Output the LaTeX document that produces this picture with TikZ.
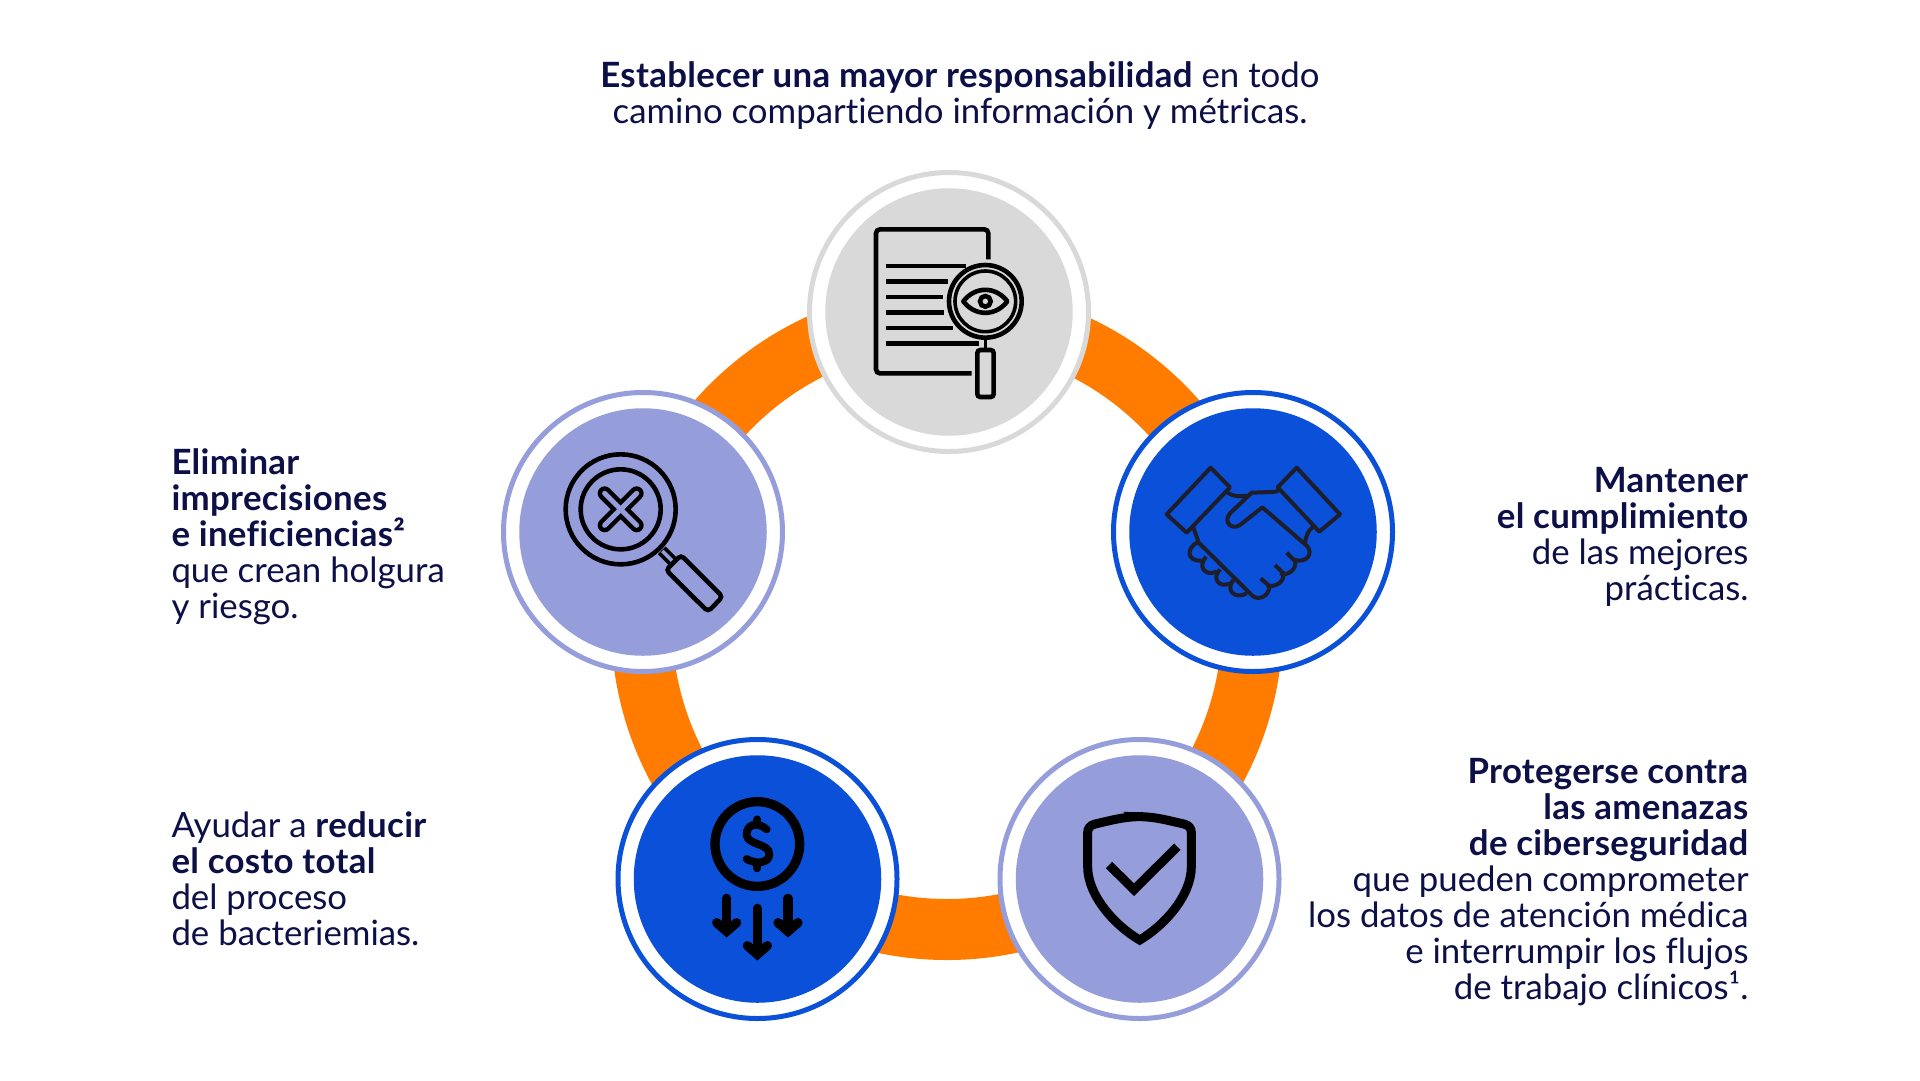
\documentclass[tikz,border=0pt]{standalone}
\usepackage{fontspec}
\setmainfont[Ligatures=CommonOff,BoldFeatures={LetterSpace=0.9}]{Lato}
\definecolor{ringor}{HTML}{FF7C00}
\definecolor{bluec}{HTML}{0A50D8}
\definecolor{lavc}{HTML}{959DDB}
\definecolor{grayc}{HTML}{D9D9D9}
\definecolor{navy}{HTML}{0D1047}
\definecolor{inkc}{HTML}{1E1E2A}
\begin{document}
\begin{tikzpicture}[x=1pt,y=-1pt,
  iconat/.style 2 args={shift={(#1,#2)},scale=1/3},
  ringnode/.style={circle,inner sep=0pt,outer sep=0pt,minimum size=279pt,line width=5pt,fill=white,draw=#1},
  corenode/.style={circle,inner sep=0pt,outer sep=0pt,minimum size=247.5pt,fill=#1},
  txt/.style={text=navy,font=\fontsize{34.8}{36.1}\selectfont,inner sep=0pt,outer sep=0pt},
  ico/.style={draw=black,line width=4.6pt,line cap=butt,line join=miter},
]
\useasboundingbox (0,0) rectangle (1920,1080);
\fill[white] (0,0) rectangle (1920,1080);
% ring
\draw[ringor,line width=61pt] (947,623) ellipse[x radius=305.5,y radius=306.5];
% circles
\node[ringnode=grayc] (ra) at (949,312) {};
\node[corenode=grayc] (ca) at (949,312) {};
\node[ringnode=bluec] (rb) at (1253,532) {};
\node[corenode=bluec] (cb) at (1253,532) {};
\node[ringnode=lavc] (rc) at (1139.5,879) {};
\node[corenode=lavc] (cc) at (1139.5,879) {};
\node[ringnode=bluec] (rd) at (757.5,879) {};
\node[corenode=bluec] (cd) at (757.5,879) {};
\node[ringnode=lavc] (re) at (643,532) {};
\node[corenode=lavc] (ce) at (643,532) {};
% document icon
\begin{scope}[iconat={800}{160}]
  \draw[ico,rounded corners=4pt] (565,298) -- (565,208) -- (228,208) -- (228,640) -- (515,640);
  \foreach \ya/\xa in {318/497,365/445,411/430,458/433,504/458,550/537}
    \draw[ico] (257,\ya) -- (\xa,\ya);
  \draw[ico] (556,424) circle[radius=109];
  \draw[ico,line width=3.6pt] (556,424) circle[radius=91];
  \draw[ico,line join=round] (490,424) .. controls (525,378) and (587,378) .. (622,424) .. controls (587,470) and (525,470) .. cycle;
  \draw[ico] (556,424) circle[radius=16];
  \draw[ico,line width=3.2pt] (556,535) -- (556,570);
  \draw[ico,rounded corners=3pt] (532,570) rectangle (581,711);
\end{scope}
% handshake icon
\begin{scope}[iconat={1110}{380}]
  \begin{scope}[every path/.style={draw=inkc,line width=4pt,line cap=butt,line join=round}]
  \path (302,263) -- (360,322) -- (230,458) -- (170,403) -- cycle;
  \path (560,263) -- (690,403) -- (628,455) -- (503,322) -- cycle;
  \path (352,338) .. controls (370,350) and (390,350) .. (410,347);
  \path (512,325) .. controls (505,335) and (495,336) .. (485,336) -- (425,338) -- (360,400)
     .. controls (338,425) and (365,452) .. (390,435) -- (457,382) -- (590,497)
     .. controls (612,520) and (590,550) .. (555,540);
  \path (530,518) -- (555,543) .. controls (562,565) and (535,590) .. (510,580);
  \path (495,555) -- (520,580) .. controls (525,605) and (495,625) .. (470,615);
  \path (452,595) -- (478,618) .. controls (478,650) and (445,662) .. (428,648) -- (266,488) -- (250,442);
  \path (262,487) .. controls (228,505) and (230,545) .. (275,542);
  \path (288,530) .. controls (262,560) and (285,590) .. (320,575);
  \path (330,568) .. controls (305,595) and (325,625) .. (362,610);
  \path (370,600) .. controls (345,630) and (375,660) .. (410,640);
  \path (610,440) .. controls (595,450) and (588,465) .. (585,490);
  \end{scope}
\end{scope}
% magnifier with cross
\begin{scope}[iconat={500}{380}]
  \draw[ico] (362,388) circle[radius=165];
  \draw[ico] (362,388) circle[radius=120];
  \draw[black,line width=14pt,line cap=round] (314,340) -- (410,436) (410,340) -- (314,436);
  \draw[lavc,line width=5pt,line cap=round] (314,340) -- (410,436) (410,340) -- (314,436);
  \draw[black,line width=11pt] (485,511) -- (525,551);
  \draw[lavc,line width=3.5pt] (487,513) -- (525,551);
  \draw[ico,rounded corners=4pt,fill=lavc] (543,525) -- (668,650) -- (624,695) -- (498,570) -- cycle;
\end{scope}
% dollar icon
\begin{scope}[iconat={610}{730}]
  \draw[black,line width=9.3pt] (442,342) circle[radius=127];
  \draw[black,line width=7.8pt,line cap=round] (470,298) .. controls (440,272) and (408,285) .. (410,315)
     .. controls (412,345) and (478,340) .. (478,372) .. controls (478,402) and (435,402) .. (410,387);
  \draw[black,line width=7.8pt,line cap=round] (442,268) -- (442,285) (442,398) -- (442,415);
  \begin{scope}[every path/.style={draw=black,line width=9.3pt,line cap=round,line join=miter}]
    \path (350,505) -- (350,595);
    \path (320,578) -- (350,604) -- (380,578);
    \path (442,535) -- (442,665);
    \path (412,647) -- (442,673) -- (472,647);
    \path (534,505) -- (534,595);
    \path (504,578) -- (534,604) -- (564,578);
  \end{scope}
\end{scope}
% shield icon
\begin{scope}[iconat={1000}{730}]
  \draw[black,line width=9pt,line join=miter] (418,260) .. controls (370,260) and (330,272) .. (285,282)
     .. controls (270,286) and (263,295) .. (263,308) -- (263,410) .. controls (263,500) and (350,590) .. (419,630)
     .. controls (488,590) and (574,500) .. (574,410) -- (574,308) .. controls (574,295) and (567,286) .. (552,282)
     .. controls (506,272) and (466,260) .. cycle;
  \draw[black,line width=9pt,line join=miter] (327,405) -- (402,479) -- (532,350);
\end{scope}
% texts
\node[txt,align=center] (ttop) at (960,95.5) {\textbf{Establecer una mayor responsabilidad} en todo\\camino compartiendo información y métricas.};
\node[txt,align=left,anchor=west] (tleft) at (171.5,537) {\textbf{Eliminar}\\\textbf{imprecisiones}\\\textbf{e ineficiencias²}\\que crean holgura\\y riesgo.};
\node[txt,align=right,anchor=east] (tright) at (1748.5,537) {\textbf{Mantener}\\\textbf{el cumplimiento}\\de las mejores\\prácticas.};
\node[txt,align=left,anchor=west] (tlow) at (171.5,879) {Ayudar a \textbf{reducir}\\\textbf{el costo total}\\del proceso\\de bacteriemias.};
\node[txt,align=right,anchor=east] (tcyb) at (1748.5,882) {\textbf{Protegerse contra}\\\textbf{las amenazas}\\\textbf{de ciberseguridad}\\que pueden comprometer\\los datos de atención médica\\e interrumpir los flujos\\de trabajo clínicos¹.};
\end{tikzpicture}
\end{document}
